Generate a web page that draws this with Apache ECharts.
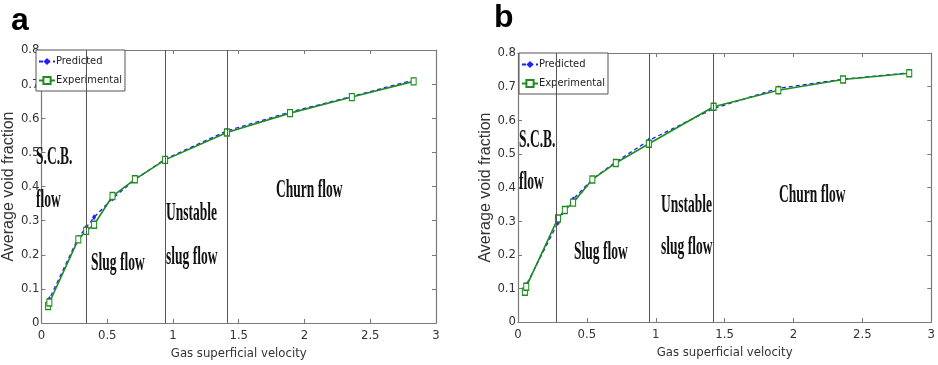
<!DOCTYPE html>
<html>
<head>
<meta charset="utf-8">
<script src="https://cdn.jsdelivr.net/npm/echarts@6/dist/echarts.min.js"></script>
<style>
  html, body { margin: 0; padding: 0; background: #fff; overflow: hidden; }
  #chart { width: 938px; height: 365px; }
</style>
</head>
<body>
<div id="chart"></div>
<script>
// panel a
const velocityA = [0.05, 0.06, 0.28, 0.34, 0.40, 0.54, 0.71, 0.94, 1.41, 1.89, 2.36, 2.83];
const predictedA = [0.06, 0.07, 0.25, 0.28, 0.31, 0.365, 0.42, 0.48, 0.563, 0.618, 0.664, 0.712];
const experimentalA = [0.05, 0.06, 0.245, 0.27, 0.288, 0.372, 0.421, 0.478, 0.558, 0.615, 0.662, 0.708];
const boundariesA = [0.344, 0.938, 1.405];

// panel b
const velocityB = [0.05, 0.06, 0.29, 0.34, 0.40, 0.54, 0.71, 0.95, 1.42, 1.89, 2.36, 2.84];
const predictedB = [0.095, 0.11, 0.295, 0.333, 0.365, 0.425, 0.476, 0.54, 0.635, 0.695, 0.722, 0.741];
const experimentalB = [0.09, 0.105, 0.308, 0.333, 0.355, 0.424, 0.473, 0.53, 0.64, 0.689, 0.721, 0.740];
const boundariesB = [0.281, 0.946, 1.417];

const xTicks = ['0', '0.5', '1', '1.5', '2', '2.5', '3'];
const yTicks = ['0', '0.1', '0.2', '0.3', '0.4', '0.5', '0.6', '0.7', '0.8'];

const NARROW = '"DejaVu Sans Condensed", "Liberation Sans", sans-serif';
const SANS = '"Liberation Sans", Arial, sans-serif';
const SERIF = '"Liberation Serif", "DejaVu Serif", serif';
const BLUE = '#1f1fff';
const GREEN = '#1e8c1e';
const AXIS = '#7a7a7a';

const pairs = (xs, ys) => xs.map((x, i) => [x, ys[i]]);

const xAxisFor = (gridIndex, nameGap) => [
  {
    gridIndex, type: 'value', min: 0, max: 3, interval: 0.5,
    name: 'Gas superficial velocity', nameLocation: 'middle', nameGap,
    nameTextStyle: { fontFamily: NARROW, fontSize: 13, color: '#333' },
    axisLine: { show: true, onZero: false, lineStyle: { color: AXIS, width: 1.2 } },
    axisTick: { inside: true, length: 4, lineStyle: { color: AXIS } },
    axisLabel: { fontFamily: NARROW, fontSize: 13, color: '#333', margin: 6,
      formatter: v => xTicks[Math.round(v * 2)] },
    splitLine: { show: false }
  },
  {
    gridIndex, type: 'value', min: 0, max: 3, interval: 0.5, position: 'top',
    axisLine: { show: true, onZero: false, lineStyle: { color: AXIS, width: 1.2 } },
    axisTick: { inside: true, length: 4, lineStyle: { color: AXIS } },
    axisLabel: { show: false }, splitLine: { show: false }
  }
];

const yAxisFor = (gridIndex, nameGap) => [
  {
    gridIndex, type: 'value', min: 0, max: 0.8, interval: 0.1,
    name: 'Average void fraction', nameLocation: 'middle', nameGap,
    nameTextStyle: { fontFamily: SANS, fontSize: 16, color: '#333' },
    axisLine: { show: true, onZero: false, lineStyle: { color: AXIS, width: 1.2 } },
    axisTick: { inside: true, length: 4, lineStyle: { color: AXIS } },
    axisLabel: { fontFamily: NARROW, fontSize: 13, color: '#333', margin: 2,
      formatter: v => yTicks[Math.round(v * 10)] },
    splitLine: { show: false }
  },
  {
    gridIndex, type: 'value', min: 0, max: 0.8, interval: 0.1, position: 'right',
    axisLine: { show: true, onZero: false, lineStyle: { color: AXIS, width: 1.2 } },
    axisTick: { inside: true, length: 4, lineStyle: { color: AXIS } },
    axisLabel: { show: false }, splitLine: { show: false }
  }
];

const seriesFor = (idx, xs, pred, exp, bounds) => [
  {
    name: 'Predicted', type: 'line', xAxisIndex: idx * 2, yAxisIndex: idx * 2,
    data: pairs(xs, pred), z: 3,
    symbol: 'diamond', symbolSize: [4, 6],
    lineStyle: { color: BLUE, width: 1.3, type: [4, 3] },
    itemStyle: { color: BLUE }
  },
  {
    name: 'Experimental', type: 'line', xAxisIndex: idx * 2, yAxisIndex: idx * 2,
    data: pairs(xs, exp), z: 4,
    symbol: 'rect', symbolSize: [5, 7],
    lineStyle: { color: GREEN, width: 1.6 },
    itemStyle: { color: '#fff', borderColor: GREEN, borderWidth: 1.2 },
    markLine: {
      silent: true, symbol: 'none', animation: false,
      label: { show: false },
      lineStyle: { color: '#555', width: 1, type: 'solid' },
      data: bounds.map(v => ({ xAxis: v }))
    }
  }
];

const legendFor = (left, top) => ({
  left, top, orient: 'vertical',
  data: ['Predicted', 'Experimental'],
  backgroundColor: '#fff', borderColor: '#555', borderWidth: 1,
  padding: [6, 3, 5, 2], itemGap: 8, itemWidth: 16, itemHeight: 9,
  textStyle: { fontFamily: NARROW, fontSize: 11, color: '#222', padding: [0, 0, 0, -4] }
});

const label = (text, x, y) => ({
  type: 'text', x, y, scaleX: 0.52, z: 10,
  style: { text, font: 'bold 26px ' + SERIF, fill: '#111', verticalAlign: 'middle' }
});

const chart = echarts.init(document.getElementById('chart'));

chart.setOption({
  animation: false,
  backgroundColor: '#fff',
  grid: [
    { left: 35, top: 50, width: 401, height: 275 },
    { left: 518, top: 53, width: 420, height: 269 }
  ],
  xAxis: [...xAxisFor(0, 24), ...xAxisFor(1, 21)],
  yAxis: [...yAxisFor(0, 14), ...yAxisFor(1, 12)],
  legend: [legendFor(36, 50), legendFor(519, 53)],
  series: [
    ...seriesFor(0, velocityA, predictedA, experimentalA, boundariesA),
    ...seriesFor(1, velocityB, predictedB, experimentalB, boundariesB)
  ],
  graphic: [
    { type: 'text', x: 11, y: 21, style: { text: 'a', font: 'bold 32px ' + SANS, fill: '#000', verticalAlign: 'middle' } },
    { type: 'text', x: 494, y: 18, style: { text: 'b', font: 'bold 32px ' + SANS, fill: '#000', verticalAlign: 'middle' } },

    label('S.C.B.', 36, 157),
    label('flow', 36, 200),
    label('Slug flow', 91, 263),
    label('Unstable', 166, 213),
    label('slug flow', 166, 257),
    label('Churn flow', 276, 190),

    label('S.C.B.', 519, 140),
    label('flow', 519, 182),
    label('Slug flow', 574, 252),
    label('Unstable', 661, 205),
    label('slug flow', 661, 247),
    label('Churn flow', 779, 195)
  ]
});

window.addEventListener('resize', () => chart.resize());
</script>
</body>
</html>
